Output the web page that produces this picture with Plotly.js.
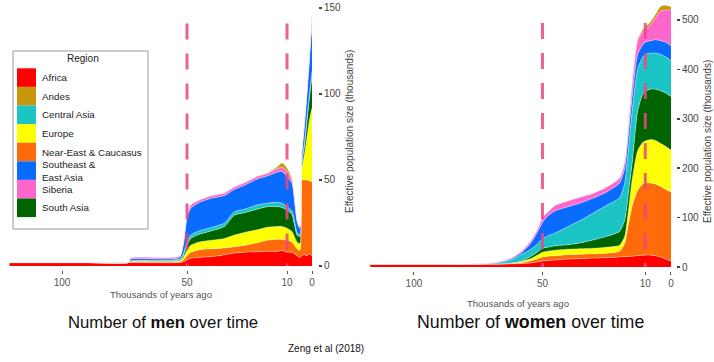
<!DOCTYPE html>
<html><head><meta charset="utf-8">
<script src="https://cdn.plot.ly/plotly-3.0.1.min.js"></script>
<style>html,body{margin:0;padding:0;background:#fff}#c{width:714px;height:362px}</style>
</head><body><div id="c"></div>
<script>
// ---- data: thousands of years ago, effective population size (thousands) ----
const regions = ["Africa","Near-East & Caucasus","Europe","South Asia","Central Asia","Southeast & East Asia","Siberia","Andes"];
const legendOrder = ["Africa","Andes","Central Asia","Europe","Near-East & Caucasus","Southeast & East Asia","Siberia","South Asia"];
const colors = {"Africa":"#FF0000","Andes":"#C8960A","Central Asia":"#1CC5C5","Europe":"#FFFF00",
  "Near-East & Caucasus":"#FF6A0A","Southeast & East Asia":"#0A6BFF","Siberia":"#FF66CC","South Asia":"#006400"};

const menT = [121,90,73.5,72.5,53,51.5,50,48.5,45,40,35,31,27,22,18,14,12,10,8,7,6,5,4.6,4.2,3,2,1,0];
const menAfrica   = [2,2,2,2,2,2.5,3.5,4.5,5,5.5,6.5,7.5,8,8.3,8.5,8.5,9,8,8,7,6,5,5,6,6.5,6,7,6];
const menNearEast = [0,0,0,0.3,0.5,1,2.5,3.5,4.5,4.5,4,3.7,4,5.2,6.5,7,6.5,7,6,5,4,4,5,44,43.5,44,42.5,43];
const menEurope   = [0,0,0,0.3,0.5,1.5,3,4,4.5,5,5.5,6.8,7.5,7.5,7.5,7.5,7.5,7,6,5,4,4,4,5,15,25,35.5,43];
const menSouthAsia= [0,0,0,0.2,0.5,1,3,4,4.5,5.5,7,11.6,11.5,12,12,11.5,11,10.5,10,7,4,4,4,2,5,9,13,18];
const menCentralAsia=[0,0,0,0.2,0.5,1,2,2,2,2,2,2,2,2.5,2,2.5,2.5,2,2,2,1.5,1,1,1,2,2,2,3];
const menSEAsia   = [0,0,0,1,1,5,14,15.5,16.5,17,16,13,14,15,15.8,17.5,18.5,17.5,16,12,6.5,4,4,4,10,14,20,27];
const menSiberia  = [0,0,0,0.8,0.8,1,2,2,1.5,1.5,1.5,1.4,1.5,1.5,1.5,2,2.5,3,2,2,1,1,1,1,1.5,2,3,6];
const menAndes    = [0,0,0,0,0,0,0,0,0,0,0,0,0,0.2,0.2,1,2.5,2,1,0.5,0.5,0.3,0.3,0.5,0.5,0.5,0.5,1];

const womenT = [117,90,75,68,62,58,55,52,50,48,45,40,35,30,25,20,18,17,15,13,11,10,8,6,4,2,0];
const womenAfrica   = [6,6,6,6,6.5,7,8,10,12,13,14,16,17,18,19,20,21,21,22,23,24,24,24,23,20,16,12];
const womenNearEast = [0,0,0,0,0.5,2,4,6,8,9,9,9,9,9,9,12,27,54,103,132,144,146,146,145,143,141,140];
const womenEurope   = [0,0,0,0,0.5,2,4,8,10,10,11,11,11,11,12,12,14,20,55,80,84,85,88,88,87,87,85];
const womenSouthAsia= [0,0,0,0,0.5,1,4,6,8,8,9,9,12,17,22,28,33,35,35,80,98,101,102,104,107,108,108];
const womenCentralAsia=[0,0,0,2,7,14,14,16,19,23,26,37,46,55,63,68,75,85,105,85,75,74,73,73,73,73,73];
const womenSEAsia   = [0,0,0,1,2,4,11,24,33,40,45,40,35,30,27,30,30,30,30,30,25,25,25,27,28,30,30];
const womenSiberia  = [0,0,0.5,1,2,3,5,6,10,8,11,12,12,10,10,10,15,17,30,28,26,25,32,45,60,65,72];
const womenAndes    = [0,0,0,0,0,0,0,0,0,0,0,0,0,0,0,0,0,0,0.5,3,5,6,6,7,10,10,7];

const xTicks = [100,50,10,0];
const menYTicks = [0,50,100,150];
const womenYTicks = [0,100,200,300,400,500];
const markerLines = [50,10];

const menSeries = [menAfrica,menNearEast,menEurope,menSouthAsia,menCentralAsia,menSEAsia,menSiberia,menAndes];
const womenSeries = [womenAfrica,womenNearEast,womenEurope,womenSouthAsia,womenCentralAsia,womenSEAsia,womenSiberia,womenAndes];

const traces = [];
function addPanel(t, series, xa, ya, grp){
  series.forEach((vals,i)=>{
    traces.push({type:'scatter',mode:'lines',x:t,y:vals,xaxis:xa,yaxis:ya,stackgroup:grp,
      name:regions[i],showlegend:false,hoverinfo:'skip',
      line:{color:'rgba(255,255,255,0.55)',width:0.7,shape:'spline',smoothing:0.6},
      fillcolor:colors[regions[i]]});
  });
}
addPanel(menT, menSeries, 'x','y','m');
addPanel(womenT, womenSeries, 'x2','y2','w');

const W=714,H=362;
const px = v=>v/W, py = v=>1-v/H;
const font = "Liberation Sans, Arial, Helvetica, sans-serif";

const shapes = [];
const annotations = [];
markerLines.forEach(t=>{
  shapes.push({type:'line',xref:'x',yref:'y',x0:t,x1:t,y0:141,y1:0,layer:'above',
    line:{color:'rgba(233,72,128,0.85)',width:3,dash:'16px,14px'}});
  shapes.push({type:'line',xref:'x2',yref:'y2',x0:t,x1:t,y0:494,y1:0,layer:'above',
    line:{color:'rgba(233,72,128,0.85)',width:3,dash:'16px,14px'}});
});

// custom legend
shapes.push({type:'rect',xref:'paper',yref:'paper',x0:px(13),x1:px(148),y0:py(51),y1:py(229),
  line:{color:'#9a9a9a',width:1},fillcolor:'#fff',layer:'above'});
annotations.push({xref:'paper',yref:'paper',x:px(83),y:py(59),text:'Region',showarrow:false,
  xanchor:'center',yanchor:'middle',font:{family:font,size:10,color:'#222'}});
legendOrder.forEach((r,i)=>{
  const y0 = 68.3 + i*18.6, y1 = y0+18.6;
  shapes.push({type:'rect',xref:'paper',yref:'paper',x0:px(17),x1:px(36),y0:py(y1),y1:py(y0),
    line:{width:0},fillcolor:colors[r],layer:'above'});
  const label = r==="Southeast & East Asia" ? "Southeast &<br>East Asia" : r;
  annotations.push({xref:'paper',yref:'paper',x:px(40),y:py((y0+y1)/2),text:label,showarrow:false,
    xanchor:'left',yanchor:'middle',align:'left',font:{family:font,size:9.8,color:'#222'}});
});

// axis titles and captions
const yTitle = 'Effective population size (thousands)';
annotations.push({xref:'paper',yref:'paper',x:px(350),y:py(132),text:yTitle,textangle:-90,showarrow:false,
  xanchor:'center',yanchor:'middle',font:{family:font,size:10,color:'#444'}});
annotations.push({xref:'paper',yref:'paper',x:px(707),y:py(142),text:yTitle,textangle:-90,showarrow:false,
  xanchor:'center',yanchor:'middle',font:{family:font,size:10,color:'#444'}});
annotations.push({xref:'paper',yref:'paper',x:px(161),y:py(294),text:'Thousands of years ago',showarrow:false,
  xanchor:'center',yanchor:'middle',font:{family:font,size:9.5,color:'#555'}});
annotations.push({xref:'paper',yref:'paper',x:px(518),y:py(303),text:'Thousands of years ago',showarrow:false,
  xanchor:'center',yanchor:'middle',font:{family:font,size:9.5,color:'#555'}});
annotations.push({xref:'paper',yref:'paper',x:px(163),y:py(322),text:'Number of <b>men</b> over time',showarrow:false,
  xanchor:'center',yanchor:'middle',font:{family:font,size:16.7,color:'#111'}});
annotations.push({xref:'paper',yref:'paper',x:px(530),y:py(322),text:'Number of <b>women</b> over time',showarrow:false,
  xanchor:'center',yanchor:'middle',font:{family:font,size:17.8,color:'#111'}});
annotations.push({xref:'paper',yref:'paper',x:px(326),y:py(348),text:'Zeng et al (2018)',showarrow:false,
  xanchor:'center',yanchor:'middle',font:{family:font,size:10,color:'#111'}});

const xCommon = {tickvals:xTicks,ticktext:xTicks.map(String),showgrid:false,zeroline:false,showline:false,
  ticks:'outside',ticklen:3,tickcolor:'#555',tickfont:{family:font,size:10,color:'#555'},fixedrange:true};
const yCommon = {side:'right',showgrid:false,zeroline:false,showline:false,ticks:'outside',ticklen:3,tickwidth:1.5,
  tickcolor:'#444',tickfont:{family:font,size:10,color:'#444'},fixedrange:true};

const layout = {
  width:W,height:H,margin:{l:0,r:0,t:0,b:0},paper_bgcolor:'#fff',plot_bgcolor:'#fff',showlegend:false,
  xaxis:Object.assign({},xCommon,{domain:[px(9),px(318)],range:[121.2,-2.4],anchor:'y'}),
  yaxis:Object.assign({},yCommon,{domain:[py(270),py(3)],range:[-2.33,152.9],tickvals:menYTicks,anchor:'x'}),
  xaxis2:Object.assign({},xCommon,{domain:[px(362),px(676)],range:[120.2,-1.95],anchor:'y2'}),
  yaxis2:Object.assign({},yCommon,{domain:[py(271),py(3)],range:[-8.1,534.4],tickvals:womenYTicks,anchor:'x2'}),
  shapes:shapes,annotations:annotations
};
Plotly.newPlot('c',traces,layout,{staticPlot:true,displayModeBar:false});
</script></body></html>
